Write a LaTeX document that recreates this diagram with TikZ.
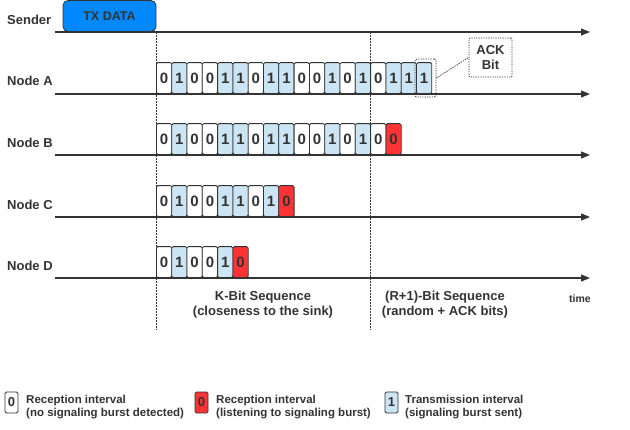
\documentclass[tikz,border=0pt]{standalone}
\usepackage{fontspec}
\setmainfont{Liberation Sans}
\usetikzlibrary{arrows.meta}
\definecolor{ink}{HTML}{333333}
\definecolor{bitblue}{HTML}{CCE5F5}
\definecolor{bitred}{HTML}{FF3333}
\definecolor{txblue}{HTML}{0088FF}
\begin{document}
\begin{tikzpicture}[x=1pt,y=-1pt,
  axis/.style={draw=ink,line width=1.1pt,-{Triangle[length=9pt,width=7pt]}},
  vdots/.style={draw=ink,line width=0.9pt,dash pattern=on 1.5pt off 1.5pt},
  lbl/.style={anchor=west,text=ink,font=\bfseries\fontsize{13}{15}\selectfont,inner sep=0},
  bitbox/.style={draw=ink,line width=0.8pt,rounded corners=1.5pt,minimum width=15.3pt,minimum height=31pt,anchor=south west,inner sep=0,text=ink,font=\bfseries\fontsize{15}{15}\selectfont},
  zerobit/.style={bitbox,fill=white},
  onebit/.style={bitbox,fill=bitblue},
  redbit/.style={bitbox,fill=bitred},
  legbox/.style={draw=ink,line width=0.8pt,rounded corners=1.5pt,minimum width=13pt,minimum height=21pt,inner sep=0,text=ink,font=\bfseries\fontsize{13}{13}\selectfont},
  legtext/.style={anchor=west,align=left,text=ink,inner sep=0,font=\bfseries\fontsize{11.5}{13}\selectfont},
  seqtext/.style={align=center,text=ink,inner sep=0,font=\bfseries\fontsize{13}{15}\selectfont},
  hlbox/.style={draw=ink,line width=0.8pt,dash pattern=on 1.2pt off 1.2pt,rounded corners=2pt,minimum width=21pt,minimum height=38pt,inner sep=0},
  ackbox/.style={draw=ink,line width=0.8pt,dash pattern=on 1.2pt off 1.2pt,rounded corners=1pt,minimum width=43pt,minimum height=39pt,inner sep=0,align=center,text=ink,font=\bfseries\fontsize{13}{15}\selectfont},
  txbox/.style={draw=ink,line width=0.8pt,fill=txblue,rounded corners=5pt,minimum width=93pt,minimum height=31pt,inner sep=0,text=ink,font=\bfseries\fontsize{12.5}{13}\selectfont}
]
\useasboundingbox (0,0) rectangle (630,429);

% time lines
\coordinate (sL) at (55,32);  \coordinate (sR) at (590,32);
\coordinate (aL) at (55,94);  \coordinate (aR) at (590,94);
\coordinate (bL) at (55,155); \coordinate (bR) at (590,155);
\coordinate (cL) at (55,217); \coordinate (cR) at (590,217);
\coordinate (dL) at (55,278); \coordinate (dR) at (590,278);
\draw[axis] (sL) -- (sR);
\draw[axis] (aL) -- (aR);
\draw[axis] (bL) -- (bR);
\draw[axis] (cL) -- (cR);
\draw[axis] (dL) -- (dR);

% labels
\node[lbl] (lS) at (7,20) {Sender};
\node[lbl] (lA) at (7,81) {Node A};
\node[lbl] (lB) at (7,143) {Node B};
\node[lbl] (lC) at (7,205) {Node C};
\node[lbl] (lD) at (7,266) {Node D};

% TX DATA
\node[txbox] (tx) at (109.5,16) {TX DATA};

% dotted separators
\coordinate (v1t) at (156,32); \coordinate (v1b) at (156,330);
\coordinate (v2t) at (370,32); \coordinate (v2b) at (370,330);
\draw[vdots] (v1t) -- (v1b);
\draw[vdots] (v2t) -- (v2b);

% Node A bits
\foreach \v [count=\i from 0] in {0,1,0,0,1,1,0,1,1,0,0,1,0,1,0,1,1,1}{
  \ifnum\v=1 \node[onebit] (A\i) at ({156+\i*15.3},94) {1};
  \else \node[zerobit] (A\i) at ({156+\i*15.3},94) {0}; \fi
}
% Node B bits
\foreach \v [count=\i from 0] in {0,1,0,0,1,1,0,1,1,0,0,1,0,1,0}{
  \ifnum\v=1 \node[onebit] (B\i) at ({156+\i*15.3},155) {1};
  \else \node[zerobit] (B\i) at ({156+\i*15.3},155) {0}; \fi
}
\node[redbit] (B15) at ({156+15*15.3},155) {0};
% Node C bits
\foreach \v [count=\i from 0] in {0,1,0,0,1,1,0,1}{
  \ifnum\v=1 \node[onebit] (C\i) at ({156+\i*15.3},217) {1};
  \else \node[zerobit] (C\i) at ({156+\i*15.3},217) {0}; \fi
}
\node[redbit] (C8) at ({156+8*15.3},217) {0};
% Node D bits
\foreach \v [count=\i from 0] in {0,1,0,0,1}{
  \ifnum\v=1 \node[onebit] (D\i) at ({156+\i*15.3},278) {1};
  \else \node[zerobit] (D\i) at ({156+\i*15.3},278) {0}; \fi
}
\node[redbit] (D5) at ({156+5*15.3},278) {0};

% ACK highlight
\node[hlbox] (ackhl) at (425.5,78) {};
\node[ackbox] (ackl) at (490.5,57.5) {ACK\\Bit};
\draw[draw=ink,line width=0.8pt,dash pattern=on 1.2pt off 1.2pt] (ackhl.east) -- (ackl.west);

% sequence texts
\node[seqtext] (kseq) at (263,305) {K-Bit Sequence\\(closeness to the sink)};
\node[seqtext] (rseq) at (445,305) {(R+1)-Bit Sequence\\(random + ACK bits)};
\node[text=ink,inner sep=0,font=\bfseries\fontsize{10.5}{11}\selectfont] (time) at (580,299) {time};

% legend
\node[legbox,fill=white] (g0) at (11.5,402.5) {0};
\node[legtext] (g0t) at (26,407) {Reception interval\\(no signaling burst detected)};
\node[legbox,fill=bitred] (g1) at (201.5,402.5) {0};
\node[legtext] (g1t) at (216,407) {Reception interval\\(listening to signaling burst)};
\node[legbox,fill=bitblue] (g2) at (391.5,402.5) {1};
\node[legtext] (g2t) at (405,407) {Transmission interval\\(signaling burst sent)};
\end{tikzpicture}
\end{document}
